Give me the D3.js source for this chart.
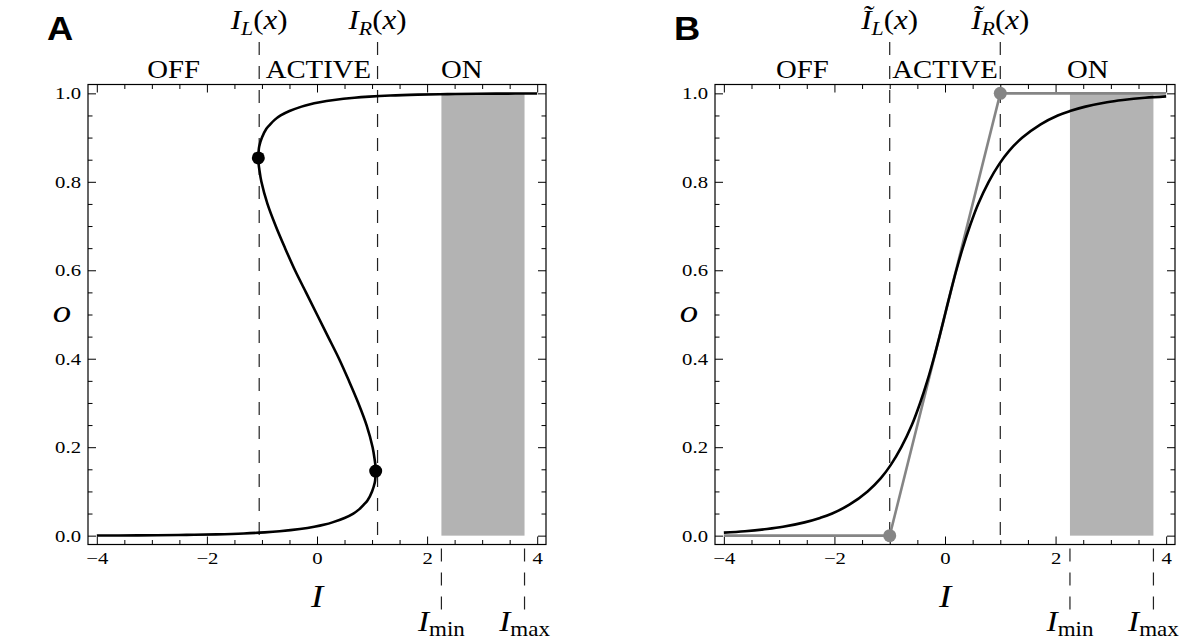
<!DOCTYPE html>
<html>
<head>
<meta charset="utf-8">
<script src="https://cdn.jsdelivr.net/npm/d3@7"></script>
<style>
  html, body { margin: 0; padding: 0; background: #fff; }
  svg { display: block; }
  text { font-family: "Liberation Serif", "Times New Roman", serif; fill: #000; }
</style>
</head>
<body>
<svg id="chart" width="1180" height="641"></svg>
<script>
// ---------------- data ----------------
// Panel A: S-shaped steady-state curve o(I)
const curveA_I = [-4.00,-3.60,-2.91,-2.51,-2.23,-1.83,-1.33,-0.95,-0.68,-0.31,-0.05,0.14,0.28,0.50,0.66,0.77,0.85,0.92,1.00,1.05,1.06,1.066,1.06,1.05,1.01,0.90,0.75,0.58,0.40,0.20,0.00,
                  -0.20,-0.40,-0.58,-0.75,-0.90,-1.01,-1.05,-1.06,-1.066,-1.06,-1.05,-1.00,-0.92,-0.85,-0.77,-0.66,-0.50,-0.28,-0.14,0.05,0.31,0.68,0.95,1.33,1.83,2.23,2.51,2.91,3.60,4.00];
const curveA_o = [0.0003,0.0005,0.001,0.0015,0.002,0.003,0.005,0.0075,0.01,0.015,0.02,0.025,0.03,0.04,0.05,0.06,0.07,0.08,0.10,0.12,0.13,0.146,0.16,0.17,0.20,0.25,0.30,0.35,0.40,0.45,0.50,
                  0.55,0.60,0.65,0.70,0.75,0.80,0.83,0.84,0.854,0.87,0.88,0.90,0.92,0.93,0.94,0.95,0.96,0.97,0.975,0.98,0.985,0.99,0.9925,0.995,0.997,0.998,0.9985,0.999,0.9995,0.9997];
const turnA_I = [-1.066, 1.066];
const turnA_o = [0.854, 0.146];
const boundsA = [-1.05, 1.10];          // I_L(x), I_R(x)

// Panel B: smooth sigmoid and piecewise-linear approximation
const curveB_I = [-4.00,-3.62,-3.22,-2.93,-2.54,-2.26,-2.04,-1.73,-1.40,-1.16,-0.98,-0.79,-0.60,-0.45,-0.32,-0.205,-0.10,0,
                  0.10,0.205,0.32,0.45,0.60,0.79,0.98,1.16,1.40,1.73,2.04,2.26,2.54,2.93,3.22,3.62,4.00];
const curveB_o = [0.0068,0.01,0.015,0.02,0.03,0.04,0.05,0.07,0.10,0.13,0.16,0.20,0.25,0.30,0.35,0.40,0.45,0.50,
                  0.55,0.60,0.65,0.70,0.75,0.80,0.84,0.87,0.90,0.93,0.95,0.96,0.97,0.98,0.985,0.99,0.9932];
const linB_I = [-4, -1, 1, 4];
const linB_o = [0, 0, 1, 1];
const turnB_I = [-1, 1];
const turnB_o = [0, 1];
const boundsB = [-1, 1];                // Ĩ_L(x), Ĩ_R(x)

// Shaded input range
const inputRange = [2.26, 3.77];        // I_min, I_max

// Axes
const xTicks = [-4, -2, 0, 2, 4];
const xMinor = [-3.5,-3,-2.5,-1.5,-1,-0.5,0.5,1,1.5,2.5,3,3.5];
const yTicks = [0, 0.2, 0.4, 0.6, 0.8, 1.0];
const yMinor = [0.05,0.1,0.15,0.25,0.3,0.35,0.45,0.5,0.55,0.65,0.7,0.75,0.85,0.9,0.95];
const regionLabels = ["OFF", "ACTIVE", "ON"];

// ---------------- drawing ----------------
const svg = d3.select("#chart");
svg.append("rect").attr("width", 1180).attr("height", 641).attr("fill", "#fff");

const yTop = 84.5, yBot = 544.5;
const SX = 1.15;          // horizontal stretch of the lettering in the reference
const TSX = 1.22;         // stretch of tick labels

function label(g, x, y, size, anchor) {
  return g.append("text")
    .attr("transform", `translate(${x},${y}) scale(${SX},1)`)
    .attr("text-anchor", anchor || "middle")
    .style("font-size", size + "px");
}

function drawPanel(opt) {
  const x = d3.scaleLinear().domain([-4.16, 4.16]).range([opt.x0, opt.x1]);
  const y = d3.scaleLinear().domain([-0.02, 1.02]).range([yBot, yTop]);
  const g = svg.append("g");

  // shaded input range
  g.append("rect")
    .attr("x", x(inputRange[0])).attr("y", y(1))
    .attr("width", x(inputRange[1]) - x(inputRange[0]))
    .attr("height", y(0) - y(1))
    .attr("fill", "#b3b3b3");

  // axes (ticks inward)
  const axB = g.append("g").attr("transform", `translate(0,${yBot})`)
    .call(d3.axisBottom(x).tickValues(xTicks).tickSize(-8).tickPadding(7).tickFormat(d3.format("d")));
  axB.selectAll(".tick text").attr("transform", `scale(${TSX},1)`);
  g.append("g").attr("transform", `translate(0,${yBot})`)
    .call(d3.axisBottom(x).tickValues(xMinor).tickSize(-4.5).tickFormat(""));
  g.append("g").attr("transform", `translate(0,${yTop})`)
    .call(d3.axisTop(x).tickValues(xTicks).tickSize(-8).tickFormat(""));
  g.append("g").attr("transform", `translate(0,${yTop})`)
    .call(d3.axisTop(x).tickValues(xMinor).tickSize(-4.5).tickFormat(""));
  const axL = g.append("g").attr("transform", `translate(${opt.x0},0)`)
    .call(d3.axisLeft(y).tickValues(yTicks).tickSize(-8).tickPadding(7).tickFormat(d3.format(".1f")));
  axL.selectAll(".tick text").attr("x", -7 / TSX).attr("transform", `scale(${TSX},1)`);
  g.append("g").attr("transform", `translate(${opt.x0},0)`)
    .call(d3.axisLeft(y).tickValues(yMinor).tickSize(-4.5).tickFormat(""));
  g.append("g").attr("transform", `translate(${opt.x1},0)`)
    .call(d3.axisRight(y).tickValues(yTicks).tickSize(-8).tickFormat(""));
  g.append("g").attr("transform", `translate(${opt.x1},0)`)
    .call(d3.axisRight(y).tickValues(yMinor).tickSize(-4.5).tickFormat(""));
  g.selectAll(".domain").remove();
  g.selectAll(".tick line").attr("stroke", "#000").attr("stroke-width", 1);
  g.selectAll(".tick text")
    .style("font-family", '"Liberation Serif", serif').style("font-size", "17px").attr("fill", "#000");

  // frame
  g.append("rect")
    .attr("x", opt.x0).attr("y", yTop)
    .attr("width", opt.x1 - opt.x0).attr("height", yBot - yTop)
    .attr("fill", "none").attr("stroke", "#000").attr("stroke-width", 1.2);

  // dashed boundaries
  opt.bounds.forEach(b => {
    g.append("line")
      .attr("x1", x(b)).attr("x2", x(b)).attr("y1", 42).attr("y2", yBot)
      .attr("stroke", "#222").attr("stroke-width", 1.2).attr("stroke-dasharray", "13,11");
  });
  inputRange.forEach(b => {
    g.append("line")
      .attr("x1", x(b)).attr("x2", x(b)).attr("y1", yBot + 4).attr("y2", 610)
      .attr("stroke", "#222").attr("stroke-width", 1.2).attr("stroke-dasharray", "13,11");
  });

  // curves
  const line = d3.line().x(d => x(d[0])).y(d => y(d[1]));
  if (opt.lin) {
    g.append("path").datum(d3.zip(opt.lin[0], opt.lin[1]))
      .attr("d", line).attr("fill", "none").attr("stroke", "#858585").attr("stroke-width", 2.6);
  }
  g.append("path").datum(d3.zip(opt.curveI, opt.curveO))
    .attr("d", line.curve(d3.curveCatmullRom.alpha(0.5)))
    .attr("fill", "none").attr("stroke", "#000").attr("stroke-width", 2.6);

  // turning points
  g.selectAll("circle.turn").data(d3.zip(opt.turnI, opt.turnO)).join("circle")
    .attr("cx", d => x(d[0])).attr("cy", d => y(d[1])).attr("r", 6.5)
    .attr("fill", opt.dotColor);

  // region labels
  const edges = [opt.x0, x(opt.bounds[0]), x(opt.bounds[1]), opt.x1];
  regionLabels.forEach((t, i) => {
    label(g, (edges[i] + edges[i + 1]) / 2, 78, 25).text(t);
  });

  // top boundary labels I_L(x), I_R(x)
  ["L", "R"].forEach((s, i) => {
    const t = label(g, x(opt.bounds[i]), 29, 27);
    t.append("tspan").style("font-style", "italic").text(opt.tilde ? "\u0128" : "I");
    t.append("tspan").style("font-style", "italic").style("font-size", "19px").attr("dy", 6).text(s);
    t.append("tspan").attr("dy", -6).text("(");
    t.append("tspan").style("font-style", "italic").text("x");
    t.append("tspan").text(")");
  });

  // axis labels
  label(g, x(0), 607, 32).style("font-style", "italic").text("I");
  label(g, opt.x0 - 26, 322, 32).style("font-style", "italic").text("o");

  // I_min, I_max
  [["min", inputRange[0]], ["max", inputRange[1]]].forEach(([s, v]) => {
    const t = label(g, x(v), 631, 29);
    t.append("tspan").style("font-style", "italic").text("I");
    t.append("tspan").style("font-size", "20px").attr("dy", 5).text(s);
  });

  // panel letter
  svg.append("text")
    .attr("transform", `translate(${opt.x0 - 41},40) scale(1.1,1)`)
    .style("font-family", '"Liberation Sans", Arial, sans-serif')
    .style("font-weight", "bold").style("font-size", "33px").text(opt.letter);
}

drawPanel({ x0: 88, x1: 546, letter: "A", curveI: curveA_I, curveO: curveA_o,
            turnI: turnA_I, turnO: turnA_o, bounds: boundsA, dotColor: "#000", tilde: false });
drawPanel({ x0: 715, x1: 1175, letter: "B", curveI: curveB_I, curveO: curveB_o,
            lin: [linB_I, linB_o], turnI: turnB_I, turnO: turnB_o, bounds: boundsB, dotColor: "#858585", tilde: true });
</script>
</body>
</html>
